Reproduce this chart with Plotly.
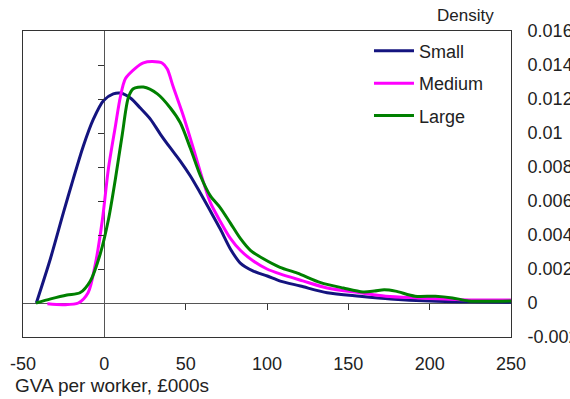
import plotly.graph_objects as go

# GVA per worker (£000s) and kernel density estimates
small_x = [-41.8, -33.2, -25.2, -19.1, -12.9, -6.8, -0.6, 5.5, 9.8, 16, 22.1, 28.3, 34.4, 40.6, 46.7, 52.9, 59, 65.2, 71.3, 77.5, 83.6, 91.6, 100.2, 108.2, 120.5, 137, 157, 176, 200, 225, 250]
small_y = [0.0, 0.00259, 0.0053, 0.0073, 0.00924, 0.0108, 0.0119, 0.0123, 0.01235, 0.01206, 0.01147, 0.01082, 0.00994, 0.00912, 0.00835, 0.00747, 0.00647, 0.00541, 0.00435, 0.00318, 0.00235, 0.00188, 0.00159, 0.00129, 0.001, 0.0006, 0.0004, 0.00024, 0.00012, 0.00007, 0.00005]

medium_x = [-35, -25, -16, -10, -5.5, -1.2, 2.5, 6.8, 9.8, 13, 19, 24, 29.5, 35.7, 38.7, 42.4, 48.6, 54.7, 60.3, 65.2, 71.3, 77.5, 83.6, 91.6, 100, 108, 122, 137, 157, 173, 193, 224, 250]
medium_y = [-0.00005, -0.0001, 0.0, 0.0006, 0.0023, 0.0049, 0.0079, 0.0104, 0.0121, 0.0132, 0.0138, 0.01412, 0.0142, 0.0141, 0.01376, 0.0127, 0.011, 0.0091, 0.0073, 0.0059, 0.0048, 0.0038, 0.0031, 0.00247, 0.002, 0.00171, 0.0013, 0.00088, 0.0006, 0.0004, 0.0003, 0.00018, 0.00018]

large_x = [-42, -33, -23, -15, -8.6, -2.5, 2.5, 6.8, 11, 14.8, 17.8, 24, 32.6, 40.6, 46.7, 52.9, 59, 65.2, 71.3, 77.5, 83.6, 89.8, 97.8, 108, 118.7, 133, 147, 159, 166, 172, 179, 191, 203.5, 214, 224, 251]
large_y = [0.0, 0.00024, 0.00047, 0.0006, 0.0013, 0.0029, 0.0049, 0.0073, 0.0099, 0.0121, 0.0126, 0.0127, 0.0123, 0.01147, 0.0106, 0.0091, 0.0075, 0.0063, 0.0056, 0.0047, 0.0038, 0.0031, 0.0026, 0.0021, 0.00176, 0.0012, 0.00088, 0.00065, 0.0007, 0.00078, 0.0007, 0.0004, 0.0004, 0.0003, 0.00012, 0.00012]

x_ticks = [-50, 0, 50, 100, 150, 200, 250]
x_tick_text = ["-50", "0", "50", "100", "150", "200", "250"]
y_ticks = [-0.002, 0, 0.002, 0.004, 0.006, 0.008, 0.01, 0.012, 0.014, 0.016]
y_tick_text = ["-0.002", "0", "0.002", "0.004", "0.006", "0.008", "0.01", "0.012", "0.014", "0.016"]
inner_x_ticks = [50, 100, 150, 200]
inner_y_ticks = [0.002, 0.004, 0.006, 0.008, 0.01, 0.012, 0.014]

series = [
    ("Small", small_x, small_y, "#14147f"),
    ("Medium", medium_x, medium_y, "#ff00ff"),
    ("Large", large_x, large_y, "#008000"),
]

FONT = "Liberation Sans, Arial, sans-serif"
TXT = "#222222"

fig = go.Figure()
for name, xs, ys, col in series:
    fig.add_trace(go.Scatter(
        x=xs, y=ys, name=name, mode="lines",
        line=dict(color=col, width=3, shape="spline", smoothing=0.8),
        legendgroup=name,
    ))

# invisible trace to carry the inner tick axes
fig.add_trace(go.Scatter(x=[None], y=[None], xaxis="x2", yaxis="y2",
                         showlegend=False, hoverinfo="skip"))

xr = [-50, 250]
yr = [-0.002, 0.016]

fig.update_layout(
    width=570, height=399,
    margin=dict(l=23, r=59, t=31, b=62),
    paper_bgcolor="white", plot_bgcolor="white",
    font=dict(family=FONT, size=18, color=TXT),
    xaxis=dict(range=xr, tickvals=x_ticks, ticktext=x_tick_text, showgrid=False, automargin=False,
               showline=True, linecolor="#333333", linewidth=1, mirror=True,
               zeroline=True, zerolinecolor="#555555", zerolinewidth=1,
               ticks="", ticklabelstandoff=10, tickfont=dict(size=18, color=TXT)),
    yaxis=dict(range=yr, tickvals=y_ticks, ticktext=y_tick_text, side="right",
               showgrid=False, automargin=False,
               showline=True, linecolor="#333333", linewidth=1, mirror=True,
               zeroline=True, zerolinecolor="#555555", zerolinewidth=1,
               ticks="", ticklabelstandoff=12, tickfont=dict(size=18, color=TXT)),
    xaxis2=dict(range=xr, overlaying="x", anchor="free", automargin=False,
                position=(0 - yr[0]) / (yr[1] - yr[0]), side="bottom",
                tickvals=inner_x_ticks, ticks="outside", ticklen=6,
                tickcolor="#333333", showticklabels=False, showgrid=False,
                showline=False, zeroline=False),
    yaxis2=dict(range=yr, overlaying="y", anchor="free", automargin=False,
                position=(0 - xr[0]) / (xr[1] - xr[0]), side="left",
                tickvals=inner_y_ticks, ticks="outside", ticklen=6,
                tickcolor="#333333", showticklabels=False, showgrid=False,
                showline=False, zeroline=False),
    legend=dict(x=0.709, y=0.995, xanchor="left", yanchor="top",
                bgcolor="rgba(0,0,0,0)", font=dict(size=18, color=TXT),
                traceorder="grouped", tracegroupgap=6, itemwidth=40),
    showlegend=True,
    annotations=[
        dict(text="Density", xref="paper", yref="paper", x=0.906, y=1.052,
             xanchor="center", yanchor="middle", showarrow=False,
             font=dict(size=17, color=TXT)),
        dict(text="GVA per worker, £000s", xref="paper", yref="paper",
             x=-0.0205, y=-0.157, xanchor="left", yanchor="middle",
             showarrow=False, font=dict(size=19, color=TXT)),
    ],
)

fig.write_html(
    "out.html",
    config={"displayModeBar": False},
    post_script="document.body.style.margin='0';document.body.style.overflow='hidden';",
)
